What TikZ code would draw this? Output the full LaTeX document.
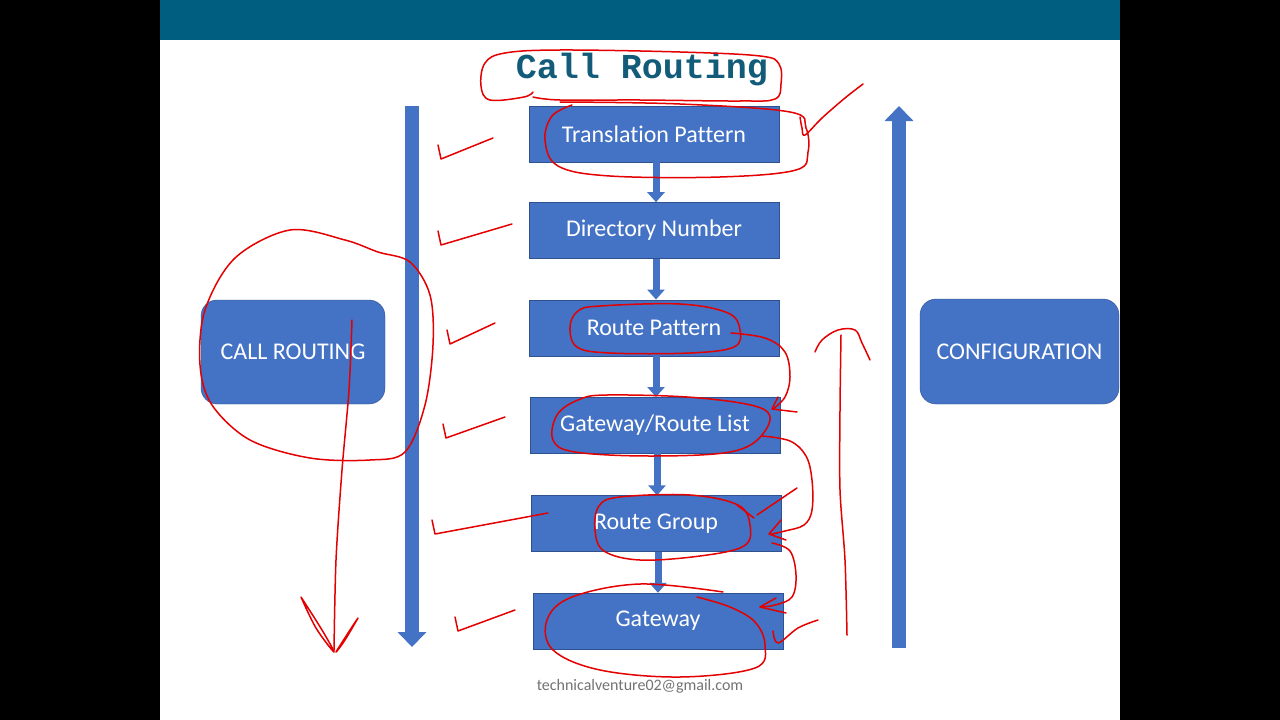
\documentclass[tikz,border=0pt]{standalone}
\usepackage{fontspec}
\setmainfont{Carlito}[Ligatures=NoCommon]
\newfontfamily\titlefont{Liberation Mono}
\usetikzlibrary{arrows.meta,positioning}
\definecolor{slideblue}{RGB}{68,114,196}
\definecolor{slideedge}{RGB}{47,82,143}
\definecolor{barteal}{RGB}{0,94,128}
\definecolor{titleteal}{RGB}{18,92,122}
\definecolor{titleglow}{RGB}{170,200,215}
\definecolor{inkred}{RGB}{228,0,0}
\tikzset{
  stepbox/.style ={draw=slideedge,fill=slideblue,text=white,minimum width=250pt,minimum height=56pt,
                   font=\fontsize{24}{27}\selectfont},
  sidebox/.style ={draw=slideedge,fill=slideblue,text=white,rounded corners=16pt,
                   font=\fontsize{24}{27}\selectfont},
  flow/.style    ={draw=slideblue,line width=7pt,-{Triangle[length=10pt,width=17pt]}},
  bigflow/.style ={draw=slideblue,line width=14pt,-{Triangle[length=15pt,width=28pt]}},
  ink/.style     ={draw=inkred,line width=1.5pt,line cap=round,line join=round}
}

\begin{document}
\begin{tikzpicture}[x=1pt,y=-1pt]
    \useasboundingbox (0,0) rectangle (1280,720);
    \fill[black] (0,0) rectangle (160,720);
    \fill[black] (1120,0) rectangle (1280,720);
    \fill[white] (160,0) rectangle (1120,720);
    \fill[barteal] (160,0) rectangle (1120,40);

    \node[font=\titlefont\bfseries\fontsize{35}{40}\selectfont, text=titleteal] (title) at (642,70) {Call Routing};

    \node[stepbox] (tp) at (654,134) {Translation Pattern};
    \node[stepbox, below=40pt of tp] (dn) {Directory Number};
    \node[stepbox, below=41pt of dn] (rp) {Route Pattern};
    \node[stepbox, below=41pt of rp, xshift=1pt] (grl) {Gateway/Route List};
    \node[stepbox, below=42pt of grl, xshift=1pt] (rg) {Route Group};
    \node[stepbox, below=41pt of rg, xshift=2pt] (gw) {Gateway};
    \foreach \a/\b in {tp/dn,dn/rp,rp/grl,grl/rg,rg/gw}
      \draw[flow] (\a.south) ++(2pt,0) -- ([xshift=2pt]\a.south |- \b.north);

    \node[sidebox, minimum width=184pt, minimum height=104pt] (callr) at (293,352) {CALL ROUTING};
    \node[sidebox, minimum width=199pt, minimum height=105pt] (conf) at (1019.5,351.5) {CONFIGURATION};

    \coordinate (ltop) at (412,106);
    \coordinate (lbot) at (412,647);
    \coordinate (rbot) at (899,648);
    \coordinate (rtop) at (899,106);
    \draw[bigflow] (ltop) -- (lbot);
    \draw[bigflow] (rbot) -- (rtop);

    \node[font=\fontsize{16}{18}\selectfont, text=black!55] (mail) at (640,686) {technicalventure02@gmail.com};

    % pen marks
    \draw[ink] plot[smooth, tension=0.6] coordinates {(533,92)(524,97)(490,100)(481,86)(485,63)(505,53)(560,50)(680,52)(760,56)(779,64)(781,84)(775,99)(740,101)(640,100)(560,100)(533,97)};
    \draw[ink] plot[smooth, tension=0.6] coordinates {(560,102)(680,104)(790,112)(806,128)(808,152)(796,170)(720,177)(610,176)(558,166)(545,140)(552,116)(572,105)};
    \draw[ink] plot[smooth, tension=0.6] coordinates {(800,117)(802,128)(805,135)(822,118)(845,98)(863,84)};
    \foreach \p/\q/\r in {438/145/493,438/231/512,447/330/495,443/424/505,432/520/548,455/617/515}
      \draw[ink] (\p,\q) -- (\p+3,\q+14) -- (\r,\q-7);
    \draw[ink] plot[smooth cycle, tension=0.6] coordinates {(600,306)(680,304)(728,313)(740,330)(734,347)(690,353)(610,353)(577,347)(570,327)(578,311)};
    \draw[ink] plot[smooth, tension=0.6] coordinates {(731,333)(765,338)(785,352)(790,377)(785,397)(773,409)};
    \draw[ink] (778,397) -- (772,409) -- (797,412);
    \draw[ink] plot[smooth cycle, tension=0.6] coordinates {(607,395)(700,398)(765,410)(762,435)(730,452)(650,456)(575,452)(553,440)(557,415)(578,400)};
    \draw[ink] plot[smooth, tension=0.6] coordinates {(762,436)(790,441)(806,456)(812,480)(812,510)(804,525)(785,531)(772,534)};
    \draw[ink] (781,520) -- (769,534) -- (786,540);
    \draw[ink] (737,505) -- (754,518);
    \draw[ink] (757,515) -- (797,488);
    \draw[ink] plot[smooth cycle, tension=0.6] coordinates {(620,497)(690,495)(738,505)(750,525)(744,546)(700,556)(640,560)(604,551)(595,530)(599,506)};
    \draw[ink] plot[smooth, tension=0.6] coordinates {(772,543)(790,551)(796,575)(792,597)(775,605)(761,607)};
    \draw[ink] (776,598) -- (760,607) -- (786,613);
    \draw[ink] plot[smooth, tension=0.6] coordinates {(723,592)(640,584)(572,597)(547,620)(553,650)(600,670)(680,677)(755,668)(765,645)(755,622)(730,607)(697,597)};
    \draw[ink] plot[smooth, tension=0.6] coordinates {(773,631)(778,643)(798,628)(818,620)};
    \draw[ink] plot[smooth cycle, tension=0.55] coordinates {(290,230)(345,240)(378,252)(410,262)(430,295)(433,345)(425,405)(405,452)(370,460)(310,458)(250,440)(212,405)(200,365)(205,310)(235,258)};
    \draw[ink] plot[smooth, tension=0.5] coordinates {(352,320)(349,390)(342,470)(336,560)(334,650)};
    \draw[ink] plot[smooth, tension=0.6] coordinates {(301,597)(322,630)(334,652)(316,628)(301,597)};
    \draw[ink] plot[smooth, tension=0.6] coordinates {(358,618)(345,640)(336,652)(350,630)(358,618)};
    \draw[ink] plot[smooth, tension=0.5] coordinates {(847,635)(845,560)(840,490)(840,410)(841,335)};
    \draw[ink] plot[smooth, tension=0.6] coordinates {(815,352)(822,340)(838,330)(855,330)(862,343)(870,360)};
\end{tikzpicture}
\end{document}
